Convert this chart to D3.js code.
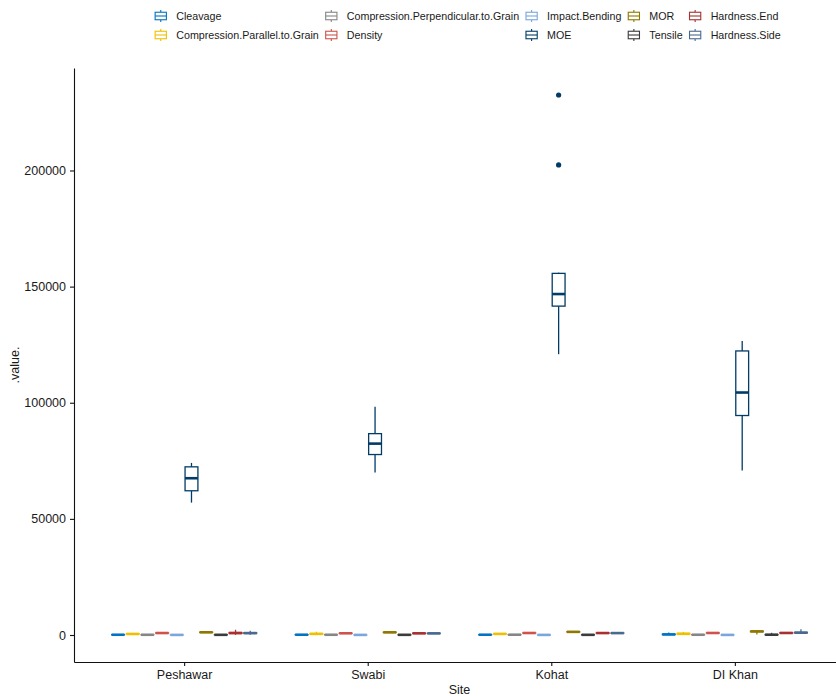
<!DOCTYPE html>
<html>
<head>
<meta charset="utf-8">
<script src="https://cdn.jsdelivr.net/npm/d3@7"></script>
<style>
  body { margin: 0; background: #fff; }
  svg { font-family: "Liberation Sans", Arial, sans-serif; }
</style>
</head>
<body>
<svg id="chart" width="836" height="696"></svg>
<script>
// ---- data ----
const sites = ['Peshawar', 'Swabi', 'Kohat', 'DI Khan'];
const properties = [
  'Cleavage', 'Compression.Parallel.to.Grain', 'Compression.Perpendicular.to.Grain',
  'Density', 'Impact.Bending', 'MOE', 'MOR', 'Tensile', 'Hardness.End', 'Hardness.Side'
];
// jco palette
const colors = ['#0073C2', '#EFC000', '#868686', '#CD534C', '#7AA6DC',
                '#003C67', '#8F7700', '#3B3B3B', '#A73030', '#4A6990'];
const yTicks = [0, 50000, 100000, 150000, 200000];

// five-number summaries per property: [lower whisker, Q1, median, Q3, upper whisker]
const peshawarStats = [
  [60, 90, 110, 130, 160],
  [300, 380, 450, 540, 620],
  [70, 85, 100, 115, 130],
  [760, 810, 850, 890, 930],
  [20, 30, 40, 50, 60],
  [57000, 62100, 67500, 72400, 74100],
  [1020, 1090, 1160, 1230, 1300],
  [40, 60, 80, 100, 120],
  [100, 650, 850, 1050, 2250],
  [150, 650, 820, 1000, 1800]
];
const swabiStats = [
  [70, 100, 120, 140, 170],
  [100, 350, 480, 620, 1450],
  [70, 90, 105, 120, 140],
  [650, 700, 740, 780, 830],
  [20, 30, 40, 50, 60],
  [70000, 77700, 82400, 86700, 98300],
  [1000, 1080, 1150, 1220, 1290],
  [40, 60, 80, 100, 120],
  [580, 650, 720, 790, 860],
  [560, 630, 700, 770, 840]
];
const kohatStats = [
  [70, 100, 120, 140, 170],
  [380, 430, 480, 530, 580],
  [90, 110, 130, 150, 170],
  [760, 810, 860, 910, 960],
  [20, 30, 40, 50, 60],
  [120900, 141600, 146800, 155700, 156000],
  [1200, 1280, 1350, 1420, 1500],
  [40, 60, 80, 100, 120],
  [720, 780, 840, 900, 960],
  [700, 760, 820, 880, 940]
];
const dikhanStats = [
  [0, 150, 250, 380, 1100],
  [100, 350, 500, 700, 1350],
  [70, 90, 110, 130, 150],
  [780, 830, 870, 910, 960],
  [20, 30, 40, 50, 60],
  [70800, 94500, 104400, 122300, 126600],
  [200, 1400, 1550, 1650, 1750],
  [0, 60, 120, 200, 950],
  [760, 820, 880, 940, 1000],
  [700, 880, 1000, 1150, 2500]
];
const statsBySite = [peshawarStats, swabiStats, kohatStats, dikhanStats];

// outlier points (site, property, value)
const outlierSites = ['Kohat', 'Kohat'];
const outlierProps = ['MOE', 'MOE'];
const outlierValues = [232500, 202400];

// ---- layout ----
const svg = d3.select('#chart');
const panel = { left: 74, right: 845, top: 68, bottom: 662 };

const defs = svg.append('defs');
defs.append('clipPath').attr('id', 'clip')
  .append('rect').attr('x', 0).attr('y', 0).attr('width', 836).attr('height', 696);

const root = svg.append('g').attr('clip-path', 'url(#clip)');

const x = d3.scalePoint()
  .domain(sites)
  .range([panel.left, panel.right])
  .padding(0.6);

// ggplot style 5% expansion around the data range
const allVals = statsBySite.flat(2).concat(outlierValues);
const yMin = d3.min(allVals), yMax = d3.max(allVals);
const pad = (yMax - yMin) * 0.05;
const y = d3.scaleLinear()
  .domain([yMin - pad, yMax + pad])
  .range([panel.bottom, panel.top]);

const step = x.step();
const slot = step * 0.8 / properties.length;   // dodge width 0.8
const boxW = step * 0.7 / properties.length;   // box width 0.7

const dodge = d3.scaleBand()
  .domain(properties)
  .range([-slot * properties.length / 2, slot * properties.length / 2]);

// flatten to rows
const boxes = [];
sites.forEach((s, si) => {
  properties.forEach((p, pi) => {
    const [lo, q1, med, q3, hi] = statsBySite[si][pi];
    boxes.push({ site: s, prop: p, color: colors[pi], lo, q1, med, q3, hi });
  });
});
const cxOf = d => x(d.site) + dodge(d.prop) + dodge.bandwidth() / 2;

const plot = root.append('g');

// outliers
plot.selectAll('circle.out')
  .data(outlierValues.map((v, i) => ({ site: outlierSites[i], prop: outlierProps[i], value: v })))
  .join('circle')
  .attr('class', 'out')
  .attr('cx', cxOf)
  .attr('cy', d => y(d.value))
  .attr('r', 2.6)
  .attr('fill', d => colors[properties.indexOf(d.prop)]);

const g = plot.selectAll('g.box')
  .data(boxes)
  .join('g')
  .attr('class', 'box')
  .attr('stroke', d => d.color)
  .attr('fill', 'none');

// whiskers
g.append('line')
  .attr('x1', cxOf).attr('x2', cxOf)
  .attr('y1', d => y(d.q3)).attr('y2', d => y(d.hi))
  .attr('stroke-width', 1.3);
g.append('line')
  .attr('x1', cxOf).attr('x2', cxOf)
  .attr('y1', d => y(d.q1)).attr('y2', d => y(d.lo))
  .attr('stroke-width', 1.3);
// box
g.append('rect')
  .attr('x', d => cxOf(d) - boxW / 2)
  .attr('width', boxW)
  .attr('y', d => y(d.q3))
  .attr('height', d => Math.max(0.01, y(d.q1) - y(d.q3)))
  .attr('fill', '#fff')
  .attr('stroke-width', 1.3);
// median
g.append('line')
  .attr('x1', d => cxOf(d) - boxW / 2).attr('x2', d => cxOf(d) + boxW / 2)
  .attr('y1', d => y(d.med)).attr('y2', d => y(d.med))
  .attr('stroke-width', 2.6);

// ---- axes ----
const yAxis = root.append('g')
  .attr('transform', `translate(${panel.left},0)`)
  .call(d3.axisLeft(y).tickValues(yTicks).tickFormat(d3.format('d')).tickSize(4).tickSizeOuter(0).tickPadding(4));
const xAxis = root.append('g')
  .attr('transform', `translate(0,${panel.bottom})`)
  .call(d3.axisBottom(x).tickSize(4).tickSizeOuter(0).tickPadding(4));

[xAxis, yAxis].forEach(ax => {
  ax.select('.domain').attr('stroke', '#111').attr('stroke-width', 1.1);
  ax.selectAll('.tick line').attr('stroke', '#111').attr('stroke-width', 1.1);
  ax.selectAll('.tick text').attr('fill', '#1a1a1a').style('font-size', '12.5px')
    .style('font-family', '"Liberation Sans", Arial, sans-serif');
});

root.append('text')
  .attr('x', (panel.left + panel.right) / 2)
  .attr('y', 694)
  .attr('text-anchor', 'middle')
  .attr('fill', '#1a1a1a')
  .style('font-size', '12.5px')
  .text('Site');

root.append('text')
  .attr('transform', `translate(19,${(panel.top + panel.bottom) / 2}) rotate(-90)`)
  .attr('text-anchor', 'middle')
  .attr('fill', '#1a1a1a')
  .style('font-size', '12.5px')
  .text('.value.');

// ---- legend: 2 rows, filled column-wise ----
const keySize = 15;
const textOffset = 23;
const colGap = 5;
const rowY = [16, 35];
const legend = root.append('g');

const items = legend.selectAll('g.item')
  .data(properties.map((p, i) => ({ prop: p, color: colors[i], col: Math.floor(i / 2), row: i % 2 })))
  .join('g')
  .attr('class', 'item');

items.append('text')
  .attr('x', textOffset)
  .attr('y', 0)
  .attr('dy', '0.35em')
  .attr('fill', '#1a1a1a')
  .style('font-size', '10.7px')
  .text(d => d.prop);

const nCols = 5;
const colWidths = d3.range(nCols).map(c =>
  d3.max(items.filter(d => d.col === c).nodes(), n => n.querySelector('text').getComputedTextLength()));
const colX = [];
let acc = 0;
for (let c = 0; c < nCols; c++) {
  colX.push(acc);
  acc += textOffset + colWidths[c] + colGap;
}
const totalW = acc - colGap;
const legendLeft = 467 - totalW / 2;

items.attr('transform', d => `translate(${legendLeft + colX[d.col]},${rowY[d.row]})`);

const key = items.append('g')
  .attr('stroke', d => d.color)
  .attr('fill', 'none')
  .attr('stroke-width', 1.1);
const k = keySize;
key.append('line').attr('x1', k / 2).attr('x2', k / 2).attr('y1', -k * 0.4).attr('y2', -k * 0.25);
key.append('line').attr('x1', k / 2).attr('x2', k / 2).attr('y1', k * 0.25).attr('y2', k * 0.4);
key.append('rect').attr('x', k * 0.125).attr('width', k * 0.75)
  .attr('y', -k * 0.25).attr('height', k * 0.5).attr('fill', '#fff');
key.append('line').attr('x1', k * 0.125).attr('x2', k * 0.875).attr('y1', 0).attr('y2', 0);
</script>
</body>
</html>
